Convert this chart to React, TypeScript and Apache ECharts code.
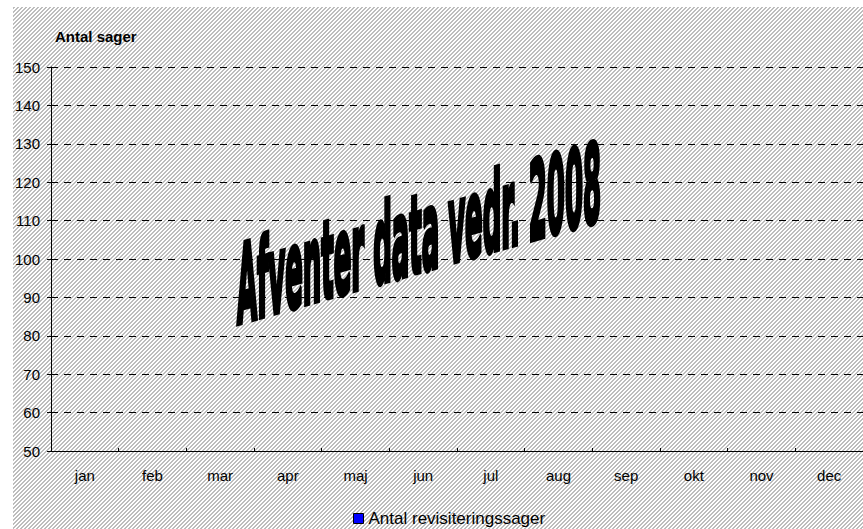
import React, { useEffect, useRef } from "react";
import * as echarts from "echarts";

const categories = ["jan", "feb", "mar", "apr", "maj", "jun", "jul", "aug", "sep", "okt", "nov", "dec"];
const seriesName = "Antal revisiteringssager";
const values: (number | null)[] = [null, null, null, null, null, null, null, null, null, null, null, null];
const yMin = 50;
const yMax = 150;
const yInterval = 10;
const yAxisTitle = "Antal sager";
const overlayText = "Afventer data vedr. 2008";

const plainFont = "'Liberation Sans', Arial, sans-serif";
const bigFontFamily = "'DejaVu Sans Condensed', 'DejaVu Sans', sans-serif";

function makeHatch(): string {
  const c = document.createElement("canvas");
  c.width = 8;
  c.height = 8;
  const ctx = c.getContext("2d")!;
  ctx.fillStyle = "#ffffff";
  ctx.fillRect(0, 0, 8, 8);
  ctx.fillStyle = "#bdbdbd";
  for (let y = 0; y < 8; y++) {
    for (let x = 0; x < 8; x++) {
      if ((x + y) % 4 < 2) ctx.fillRect(x, y, 1, 1);
    }
  }
  return c.toDataURL();
}

export default function App() {
  const ref = useRef<HTMLDivElement>(null);
  useEffect(() => {
    if (!ref.current) return;
    const chart = echarts.init(ref.current, undefined, { renderer: "svg" });
    const hatch = makeHatch();

    const F = 108;
    const bigFont = `bold ${F}px ${bigFontFamily}`;
    const mc = document.createElement("canvas").getContext("2d")!;
    mc.font = bigFont;
    const textW = mc.measureText(overlayText).width || 1400;
    const sx = 364 / textW;

    chart.setOption({
      animation: false,
      backgroundColor: "#ffffff",
      grid: { left: 51, right: 0, top: 67, bottom: 78 },
      legend: {
        left: 353,
        top: 510,
        padding: 0,
        itemWidth: 10,
        itemHeight: 10,
        icon: "rect",
        selectedMode: false,
        itemStyle: { color: "#0000ff", borderColor: "#000000", borderWidth: 1 },
        textStyle: { fontSize: 17, fontFamily: plainFont, color: "#000000" },
        data: [seriesName],
      },
      xAxis: {
        type: "category",
        data: categories,
        boundaryGap: true,
        axisLine: { show: true, lineStyle: { color: "#000000", width: 1 } },
        axisTick: { show: true, inside: true, length: 3, interval: 0, lineStyle: { color: "#000000" } },
        axisLabel: { interval: 0, margin: 17, fontSize: 15, fontFamily: plainFont, color: "#000000" },
        splitLine: { show: false },
      },
      yAxis: {
        type: "value",
        min: yMin,
        max: yMax,
        interval: yInterval,
        axisLine: { show: true, lineStyle: { color: "#000000", width: 1 } },
        axisTick: { show: true, inside: false, length: 4, lineStyle: { color: "#000000" } },
        axisLabel: { margin: 11, fontSize: 15, fontFamily: plainFont, color: "#000000" },
        splitLine: { show: true, lineStyle: { color: "#000000", width: 1, type: [7, 6] } },
      },
      series: [
        {
          name: seriesName,
          type: "bar",
          data: values,
          itemStyle: { color: "#0000ff", borderColor: "#000000", borderWidth: 1 },
        },
      ],
      graphic: {
        elements: [
          {
            type: "rect",
            z: -10,
            silent: true,
            shape: { x: 13, y: 7, width: 850, height: 522 },
            style: { fill: { image: hatch, repeat: "repeat", imageWidth: 8, imageHeight: 8 } as any },
          },
          {
            type: "text",
            x: 55,
            y: 36.5,
            z: 10,
            style: {
              text: yAxisTitle,
              font: `bold 15px ${plainFont}`,
              fill: "#000000",
              align: "left",
              verticalAlign: "middle",
            },
          },
          {
            type: "text",
            x: 237,
            y: 286,
            z: 100,
            scaleX: sx,
            scaleY: 1,
            skewY: Math.atan(0.286),
            style: {
              text: overlayText,
              font: bigFont,
              fill: "#000000",
              stroke: "#000000",
              lineWidth: 6,
              align: "left",
              verticalAlign: "middle",
              textShadowColor: "#000000",
              textShadowBlur: 0,
              textShadowOffsetX: 2.5,
              textShadowOffsetY: 0,
            },
          },
        ],
      },
    });
    return () => chart.dispose();
  }, []);
  return (
    <div
      ref={ref}
      style={{ position: "fixed", left: 0, top: 0, width: 863, height: 529 }}
    />
  );
}
